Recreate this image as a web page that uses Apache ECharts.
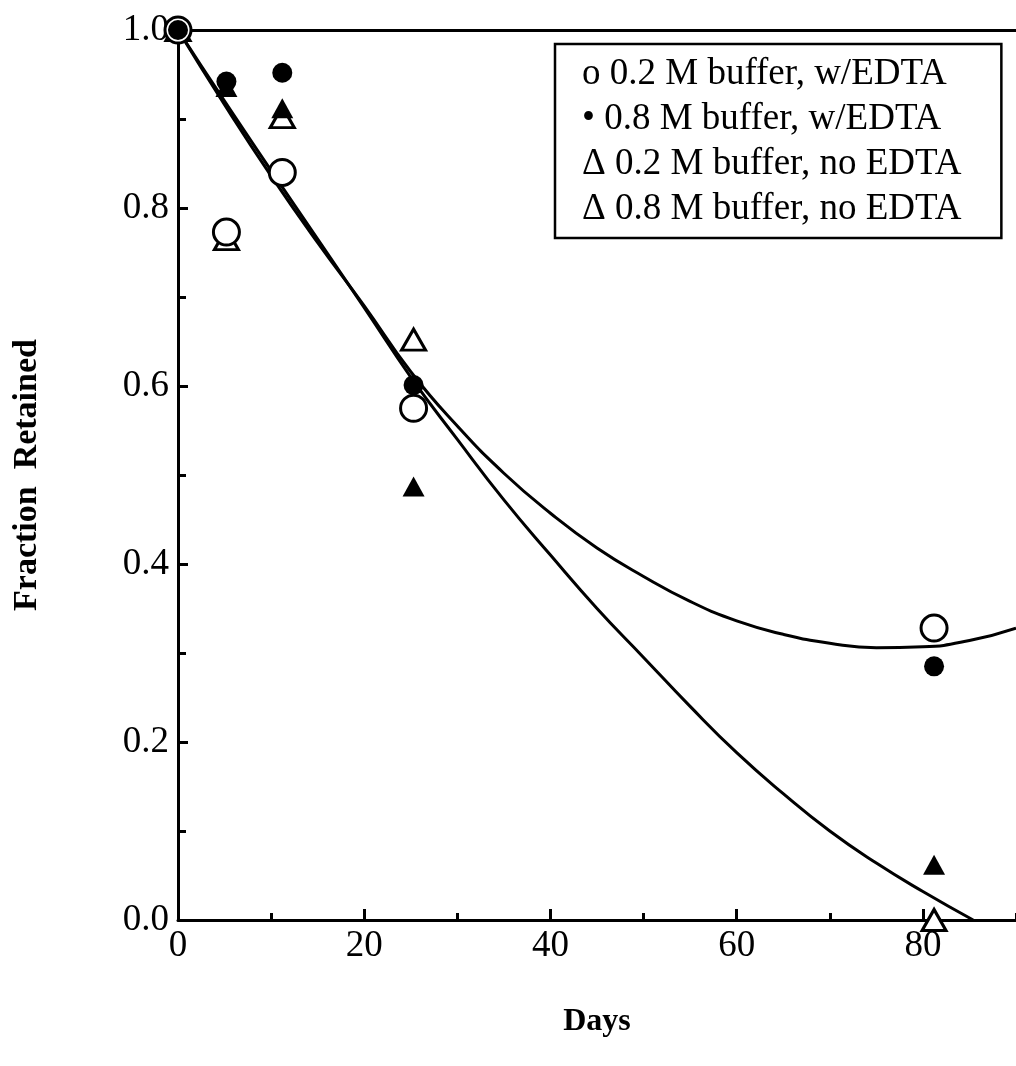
<!DOCTYPE html>
<html>
<head>
<meta charset="utf-8">
<script src="https://cdn.jsdelivr.net/npm/echarts@6/dist/echarts.min.js"></script>
<style>
  html, body { margin: 0; padding: 0; background: #fff; }
  #main { width: 1016px; height: 1066px; }
</style>
</head>
<body>
<div id="main"></div>
<script>
// legend names
const names = [
  'o 0.2 M buffer, w/EDTA',
  '\u2022 0.8 M buffer, w/EDTA',
  '\u0394 0.2 M buffer, no EDTA',
  '\u0394 0.8 M buffer, no EDTA'
]

// measured points [days, fraction]
const openCircle = [[0, 1.0], [5.2, 0.773], [11.2, 0.84], [25.3, 0.575], [81.2, 0.328]]
const filledCircle = [[0, 1.0], [5.2, 0.942], [11.2, 0.952], [25.3, 0.601], [81.2, 0.285]]
const openTriangle = [[0, 1.0], [5.2, 0.765], [11.2, 0.902], [25.3, 0.652], [81.2, 0.0]]
const filledTriangle = [[0, 1.0], [5.2, 0.936], [11.2, 0.912], [25.3, 0.487], [81.2, 0.062]]

// fitted curves
const curveEDTA = [[0, 1.0], [5, 0.916], [10, 0.836], [15, 0.761], [20, 0.69], [25, 0.616],
  [30, 0.555], [35, 0.502], [40, 0.457], [45, 0.418], [50, 0.386], [55, 0.358], [60, 0.336],
  [65, 0.321], [70, 0.311], [75, 0.306], [80, 0.307], [85, 0.314], [90, 0.328]]
const curveNoEDTA = [[0, 1.0], [5, 0.92], [10, 0.842], [15, 0.765], [20, 0.688], [25, 0.61],
  [30, 0.54], [35, 0.472], [40, 0.41], [45, 0.35], [50, 0.295], [55, 0.24], [60, 0.188],
  [65, 0.142], [70, 0.1], [75, 0.064], [80, 0.032], [85.4, 0.0]]

const xTicks = ['0', '20', '40', '60', '80']
const yTicks = ['0.0', '0.2', '0.4', '0.6', '0.8', '1.0']

const serif = 'Liberation Serif'
var myChart = echarts.init(document.getElementById('main'))

let option = {
  animation: false,
  backgroundColor: '#fff',
  legend: {
    orient: 'vertical',
    left: 555,
    top: 44,
    data: names,
    icon: 'none',
    itemWidth: 0,
    itemGap: 8,
    padding: [12, 40, 10, 22],
    borderColor: '#000',
    borderWidth: 2.5,
    selectedMode: false,
    textStyle: { fontFamily: serif, fontSize: 37, color: '#000' }
  },
  grid: { left: 178, top: 30, width: 846, height: 890 },
  xAxis: [
    {
      type: 'value', min: 0, max: 90, interval: 20, position: 'bottom',
      name: 'Days', nameLocation: 'middle', nameGap: 86,
      nameTextStyle: { fontFamily: serif, fontSize: 32, fontWeight: 'bold', color: '#000' },
      axisLine: { lineStyle: { color: '#000', width: 3 } },
      axisTick: { inside: true, length: 11, lineStyle: { color: '#000', width: 3 } },
      axisLabel: {
        fontFamily: serif, fontSize: 37, color: '#000', margin: 8, showMaxLabel: false,
        formatter: v => xTicks.includes(String(v)) ? String(v) : ''
      },
      splitLine: { show: false }
    },
    {
      type: 'value', min: 0, max: 90, interval: 10, position: 'bottom',
      axisLine: { show: false },
      axisTick: { inside: true, length: 7, lineStyle: { color: '#000', width: 3 } },
      axisLabel: { show: false },
      splitLine: { show: false }
    },
    {
      type: 'value', min: 0, max: 90, position: 'top',
      axisLine: { lineStyle: { color: '#000', width: 3 } },
      axisTick: { show: false },
      axisLabel: { show: false },
      splitLine: { show: false }
    }
  ],
  yAxis: [
    {
      type: 'value', min: 0, max: 1, interval: 0.2, position: 'left',
      name: 'Fraction  Retained', nameLocation: 'middle', nameGap: 134,
      nameTextStyle: { fontFamily: serif, fontSize: 34, fontWeight: 'bold', color: '#000' },
      axisLine: { lineStyle: { color: '#000', width: 3 } },
      axisTick: { inside: true, length: 10, lineStyle: { color: '#000', width: 3 } },
      axisLabel: {
        fontFamily: serif, fontSize: 37, color: '#000', margin: 9,
        formatter: v => yTicks[Math.round(v * 5)]
      },
      splitLine: { show: false }
    },
    {
      type: 'value', min: 0, max: 1, interval: 0.1, position: 'left',
      axisLine: { show: false },
      axisTick: { inside: true, length: 8, lineStyle: { color: '#000', width: 3 } },
      axisLabel: { show: false },
      splitLine: { show: false }
    }
  ],
  series: [
    {
      type: 'line', data: curveEDTA, smooth: true, showSymbol: false, silent: true,
      lineStyle: { color: '#000', width: 3 }, z: 1
    },
    {
      type: 'line', data: curveNoEDTA, smooth: true, showSymbol: false, silent: true,
      lineStyle: { color: '#000', width: 3 }, z: 1
    },
    {
      name: names[2], type: 'scatter', data: openTriangle, symbol: 'triangle', symbolSize: [24, 21],
      itemStyle: { color: '#fff', borderColor: '#000', borderWidth: 3, opacity: 1 }, z: 2
    },
    {
      name: names[3], type: 'scatter', data: filledTriangle, symbol: 'triangle', symbolSize: [22, 20],
      itemStyle: { color: '#000', opacity: 1 }, z: 3
    },
    {
      name: names[0], type: 'scatter', data: openCircle, symbol: 'circle', symbolSize: 26,
      itemStyle: { color: '#fff', borderColor: '#000', borderWidth: 3, opacity: 1 }, z: 4
    },
    {
      name: names[1], type: 'scatter', data: filledCircle, symbol: 'circle', symbolSize: 20,
      itemStyle: { color: '#000', opacity: 1 }, z: 5
    }
  ]
}
myChart.setOption(option)
</script>
</body>
</html>
